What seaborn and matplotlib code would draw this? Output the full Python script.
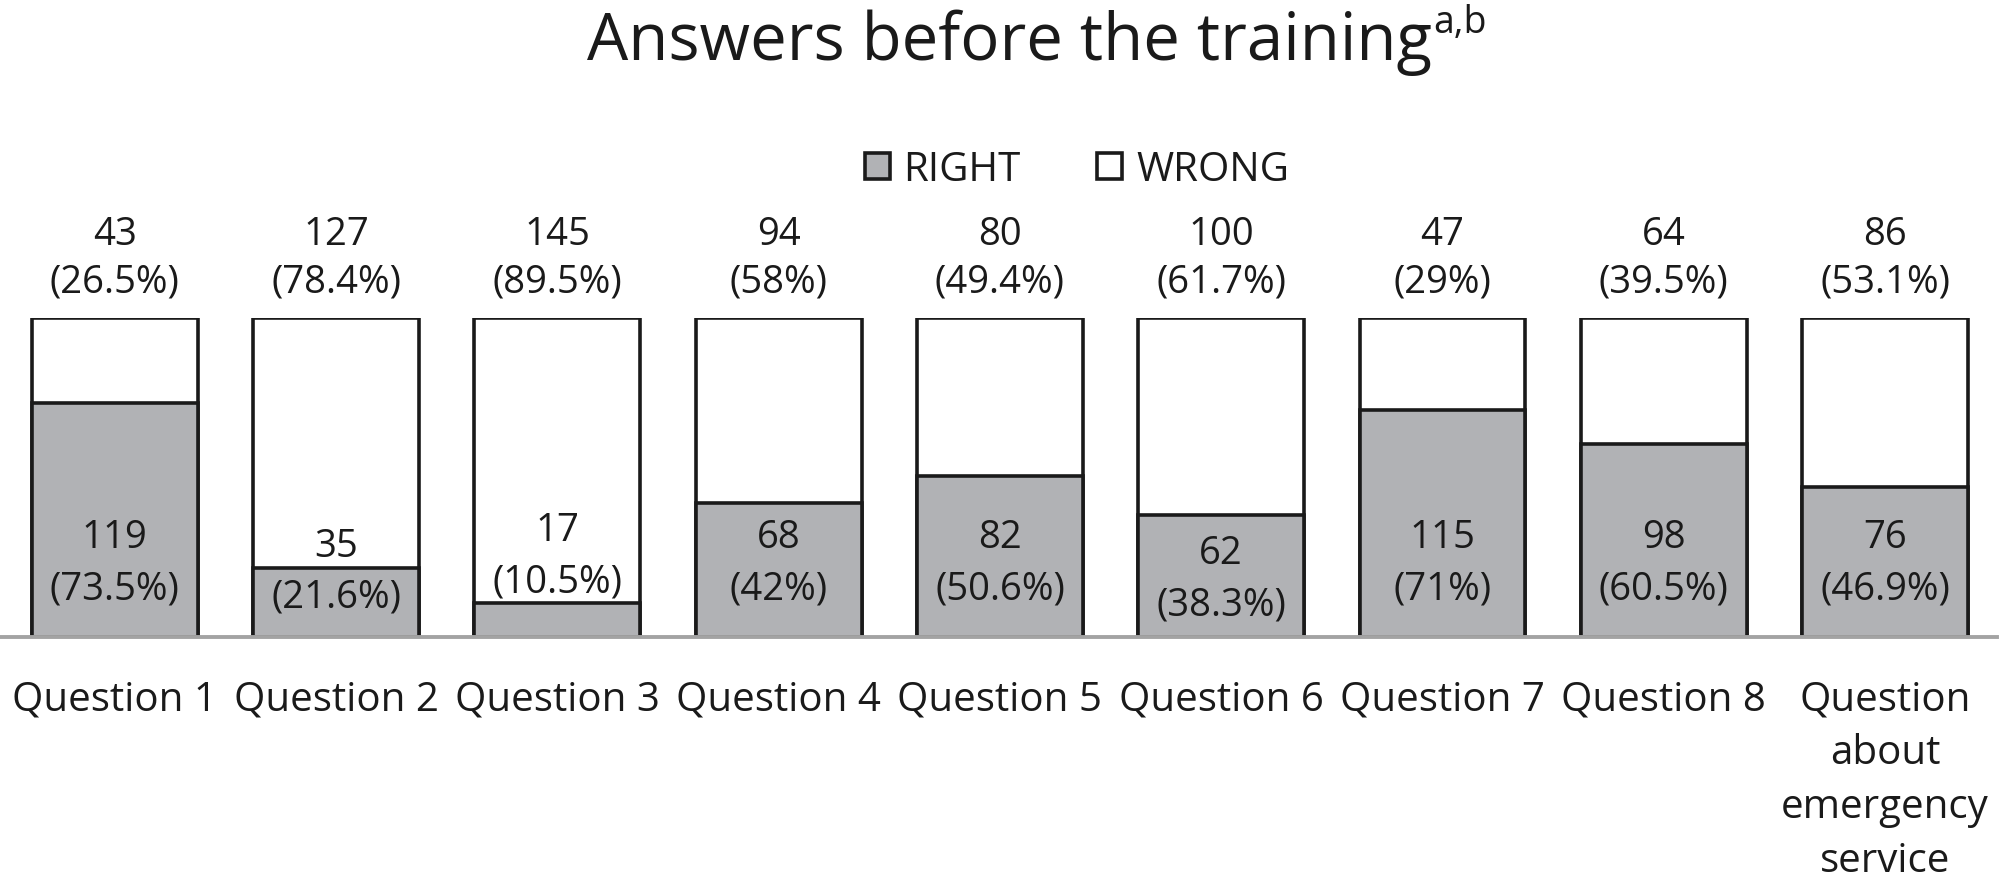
import matplotlib
matplotlib.use("Agg")
import matplotlib.pyplot as plt
import seaborn as sns
import pandas as pd
from matplotlib.patches import Patch

# ---------------- data ----------------
questions = ["Question 1", "Question 2", "Question 3", "Question 4", "Question 5",
             "Question 6", "Question 7", "Question 8",
             "Question\nabout\nemergency\nservice"]
right_counts = [119, 35, 17, 68, 82, 62, 115, 98, 76]
wrong_counts = [43, 127, 145, 94, 80, 100, 47, 64, 86]
right_pct = [73.5, 21.6, 10.5, 42, 50.6, 38.3, 71, 60.5, 46.9]
wrong_pct = [26.5, 78.4, 89.5, 58, 49.4, 61.7, 29, 39.5, 53.1]
legend_labels = ["RIGHT", "WRONG"]
title_text = "Answers before the training"
title_sup = "a,b"

# label placement (centre of the two-line label inside the bars, in % units)
inner_label_center = [24.4, 21.6, 26.6, 24.4, 24.4, 19.4, 24.4, 24.4, 24.4]

# ---------------- style ----------------
GRAY = "#b1b2b5"
EDGE = "#1a1a1a"
TEXT = "#1a1a1a"
sns.set_theme(style="white")
plt.rcParams["font.family"] = ["Open Sans", "DejaVu Sans"]

fig = plt.figure(figsize=(20, 8.79), dpi=100)
ax = fig.add_axes([0.0, 0.2742, 0.9985, 0.3629])

df = pd.DataFrame({
    "question": questions,
    "total": [r + w for r, w in zip(right_pct, wrong_pct)],
    "right": right_pct,
})

sns.barplot(data=df, x="question", y="total", color="white", saturation=1,
            edgecolor=EDGE, linewidth=2.6, width=0.75, ax=ax, errorbar=None)
sns.barplot(data=df, x="question", y="right", color=GRAY, saturation=1,
            edgecolor=EDGE, linewidth=2.6, width=0.75, ax=ax, errorbar=None)

ax.set_xlim(-0.519, 8.506)
ax.set_ylim(0, 100)
ax.set_xlabel("")
ax.set_ylabel("")
ax.set_yticks([])
for s in ["top", "left", "right"]:
    ax.spines[s].set_visible(False)
ax.spines["bottom"].set_color("#a3a3a3")
ax.spines["bottom"].set_linewidth(2.8)
ax.spines["bottom"].set_zorder(5)
ax.tick_params(axis="x", length=0, pad=30.5, labelsize=29, colors=TEXT)
for lbl in ax.get_xticklabels():
    lbl.set_linespacing(1.43)

FS = 27.5
# labels above bars (WRONG) and inside bars (RIGHT)
for i in range(len(questions)):
    ax.text(i, 123.2, f"{wrong_counts[i]}", ha="center", va="baseline",
            fontsize=FS, color=TEXT, clip_on=False)
    ax.text(i, 108.2, f"({wrong_pct[i]:g}%)", ha="center", va="baseline",
            fontsize=FS, color=TEXT, clip_on=False)
    c = inner_label_center[i]
    ax.text(i, c + 3.8, f"{right_counts[i]}", ha="center", va="baseline",
            fontsize=FS, color=TEXT, zorder=6)
    ax.text(i, c - 12.2, f"({right_pct[i]:g}%)", ha="center", va="baseline",
            fontsize=FS, color=TEXT, zorder=6)

# legend
handles = [Patch(facecolor=GRAY, edgecolor=EDGE, linewidth=2.6),
           Patch(facecolor="white", edgecolor=EDGE, linewidth=2.6)]
fig.legend(handles, legend_labels, loc="center", bbox_to_anchor=(0.5385, 0.806),
           ncol=2, frameon=False, fontsize=29, handlelength=0.62, handleheight=0.62,
           handletextpad=0.35, columnspacing=1.9, borderpad=0, labelcolor=TEXT)

# title with superscript
t = fig.text(0.5045, 1 - 60 / 879, title_text, ha="center", va="baseline",
             fontsize=47, color=TEXT)
fig.canvas.draw()
bb = t.get_window_extent()
fig.text(bb.x1 / fig.bbox.width + 0.001, 1 - 33 / 879, title_sup, ha="left",
         va="baseline", fontsize=27, color=TEXT)

fig.savefig("out.png", dpi=100, facecolor="white")
